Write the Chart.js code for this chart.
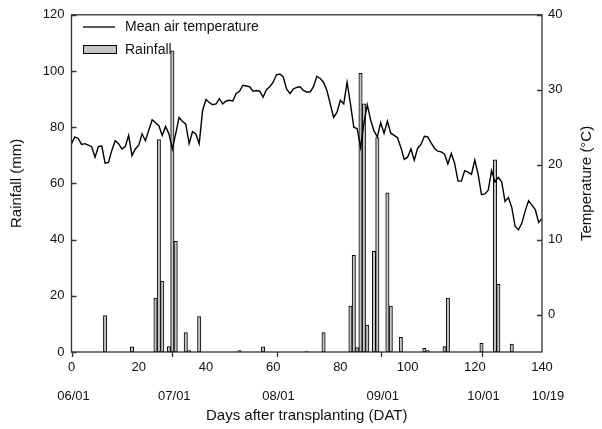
<!DOCTYPE html>
<html>
<head>
<meta charset="UTF-8">
<script src="https://cdn.jsdelivr.net/npm/chart.js"></script>
<style>
  html, body { margin: 0; padding: 0; background: #fff; }
</style>
</head>
<body>
<canvas id="chart" width="602" height="429"></canvas>
<script>
// rainfall bars: day after transplanting and mm
const rainDays = [10, 18, 25, 26, 27, 29, 30, 31, 34, 35, 38, 50, 57, 70, 75,
  83, 84, 85, 86, 87, 88, 90, 91, 94, 95, 98, 105, 106, 111, 112, 122, 126, 127, 131];
const rainMm = [13, 1.8, 19.2, 75.6, 25.2, 1.9, 107.2, 39.4, 6.9, 0.5, 12.6, 0.5, 1.8, 0.3, 6.9,
  16.3, 34.4, 1.6, 99.2, 88.3, 9.6, 35.8, 76.3, 56.6, 16.3, 5.2, 1.3, 0.5, 1.9, 19.2, 3.1, 68.4, 24.1, 2.8];

// mean air temperature, one value per day, day 0..140
const tempC = [
  22.8, 23.7, 23.5, 22.7, 22.8, 22.6, 22.4, 21.0, 22.4, 22.5,
  20.2, 20.3, 21.9, 23.2, 22.8, 22.1, 22.4, 23.9, 21.2, 22.1,
  22.6, 24.1, 23.2, 24.6, 26.0, 25.6, 25.2, 23.9, 25.1, 24.1,
  22.1, 24.1, 26.3, 25.8, 25.4, 22.8, 24.4, 24.1, 22.8, 27.2,
  28.7, 28.3, 28.0, 28.1, 28.8, 28.1, 28.5, 28.6, 28.5, 29.5,
  29.8, 30.6, 30.5, 30.4, 29.8, 29.9, 29.8, 29.0, 30.0, 30.4,
  31.0, 32.0, 32.1, 31.7, 30.1, 29.5, 30.1, 30.3, 30.4, 29.9,
  29.7, 29.7, 30.4, 31.8, 31.5, 31.0, 29.9, 28.1, 26.3, 27.0,
  28.6, 28.1, 31.0, 28.1, 25.0, 24.8, 22.3, 25.5, 28.0, 26.0,
  24.5, 23.7, 25.6, 24.2, 25.8, 24.2, 23.9, 23.6, 22.3, 20.7,
  21.0, 22.1, 20.6, 22.2, 22.7, 23.8, 23.7, 22.9, 22.2, 21.8,
  21.7, 21.4, 20.1, 21.5, 20.2, 17.8, 17.8, 19.2, 19.0, 18.7,
  20.6, 18.7, 16.0, 16.1, 16.6, 19.2, 17.7, 18.3, 17.7, 15.1,
  15.6, 14.3, 11.8, 11.3, 12.2, 13.8, 15.2, 14.6, 14.0, 12.3,
  12.8
];

const dayTicks = [0, 20, 40, 60, 80, 100, 120, 140];
const rainTicks = [0, 20, 40, 60, 80, 100, 120];
const tempTicks = [0, 10, 20, 30, 40];
const monthDays = [0, 30, 61, 92, 122, 140];
const monthLabels = ['06/01', '07/01', '08/01', '09/01', '10/01', '10/19'];

const FONT = 'Liberation Sans, Arial, sans-serif';
const INK = '#111';

const extras = {
  id: 'extras',
  afterDraw(chart) {
    const ctx = chart.ctx;
    const ca = chart.chartArea;
    const sx = chart.scales.x, sy = chart.scales.y, sy2 = chart.scales.y2;
    ctx.save();
    ctx.strokeStyle = '#333';
    ctx.lineWidth = 1.3;
    ctx.strokeRect(ca.left, ca.top, ca.right - ca.left, ca.bottom - ca.top);

    ctx.beginPath();
    rainTicks.forEach(v => {
      const y = Math.round(sy.getPixelForValue(v)) + 0.5;
      ctx.moveTo(ca.left, y); ctx.lineTo(ca.left + 5, y);
    });
    tempTicks.forEach(v => {
      const y = Math.round(sy2.getPixelForValue(v)) + 0.5;
      ctx.moveTo(ca.right - 5, y); ctx.lineTo(ca.right, y);
    });
    monthDays.slice(0, 5).forEach(d => {
      const x = Math.round(sx.getPixelForValue(d)) + 0.5;
      ctx.moveTo(x, ca.bottom); ctx.lineTo(x, ca.bottom + 5);
    });
    ctx.stroke();

    ctx.fillStyle = INK;
    ctx.font = '13px ' + FONT;
    ctx.textAlign = 'center';
    ctx.textBaseline = 'middle';
    monthDays.forEach((d, i) => {
      ctx.fillText(monthLabels[i], sx.getPixelForValue(d) + (i === 5 ? 6 : 2), 396);
    });

    // right axis title, reading upward
    ctx.save();
    ctx.translate(587, (ca.top + ca.bottom) / 2);
    ctx.rotate(-Math.PI / 2);
    ctx.font = '15px ' + FONT;
    ctx.fillText('Temperature (°C)', 0, 0);
    ctx.restore();

    // legend
    ctx.font = '14px ' + FONT;
    ctx.textAlign = 'left';
    ctx.strokeStyle = '#000';
    ctx.lineWidth = 1.3;
    ctx.beginPath();
    ctx.moveTo(83, 27); ctx.lineTo(115, 27);
    ctx.stroke();
    ctx.fillText('Mean air temperature', 125, 27);
    ctx.fillStyle = '#c4c4c4';
    ctx.fillRect(83.5, 45.5, 33, 8);
    ctx.lineWidth = 1;
    ctx.strokeRect(83.5, 45.5, 33, 8);
    ctx.fillStyle = INK;
    ctx.fillText('Rainfall', 125, 50);
    ctx.restore();
  }
};

const tickFont = { family: FONT, size: 13 };
const titleFont = { family: FONT, size: 15 };

new Chart(document.getElementById('chart'), {
  data: {
    datasets: [
      {
        type: 'line',
        label: 'Mean air temperature',
        data: tempC.map((v, i) => ({ x: i, y: v })),
        yAxisID: 'y2',
        borderColor: '#000',
        borderWidth: 1.4,
        pointRadius: 0,
        tension: 0,
        order: 0
      },
      {
        type: 'bar',
        label: 'Rainfall',
        data: rainDays.map((d, i) => ({ x: d, y: rainMm[i] })),
        yAxisID: 'y',
        backgroundColor: '#c4c4c4',
        borderColor: '#000',
        borderWidth: 1,
        borderSkipped: false,
        barPercentage: 1,
        categoryPercentage: 1,
        order: 1
      }
    ]
  },
  options: {
    responsive: false,
    animation: false,
    layout: { padding: { top: 14, left: 0, right: 0, bottom: 0 } },
    plugins: { legend: { display: false }, tooltip: { enabled: false } },
    scales: {
      x: {
        type: 'linear',
        offset: false,
        min: 0, max: 140,
        afterBuildTicks: s => { s.ticks = dayTicks.map(v => ({ value: v })); },
        afterFit: s => { s.height = 77; },
        grid: { display: false, drawTicks: false, offset: false },
        border: { display: false },
        ticks: { padding: 8, color: INK, font: tickFont, maxRotation: 0, autoSkip: false },
        title: { display: true, text: 'Days after transplanting (DAT)', color: INK, font: titleFont, padding: { top: 0, bottom: 4 } }
      },
      y: {
        position: 'left',
        min: 0, max: 120,
        afterBuildTicks: s => { s.ticks = rainTicks.map(v => ({ value: v })); },
        afterFit: s => { s.width = 71.5; },
        grid: { display: false, drawTicks: false },
        border: { display: false },
        ticks: { padding: 7, color: INK, font: tickFont },
        title: { display: true, text: 'Rainfall (mm)', color: INK, font: titleFont, padding: { top: 8, bottom: 0 } }
      },
      y2: {
        position: 'right',
        min: -5, max: 40,
        afterBuildTicks: s => { s.ticks = tempTicks.map(v => ({ value: v })); },
        afterFit: s => { s.width = 60; },
        grid: { display: false, drawTicks: false },
        border: { display: false },
        ticks: { padding: 6, color: INK, font: tickFont }
      }
    }
  },
  plugins: [extras]
});
</script>
</body>
</html>
